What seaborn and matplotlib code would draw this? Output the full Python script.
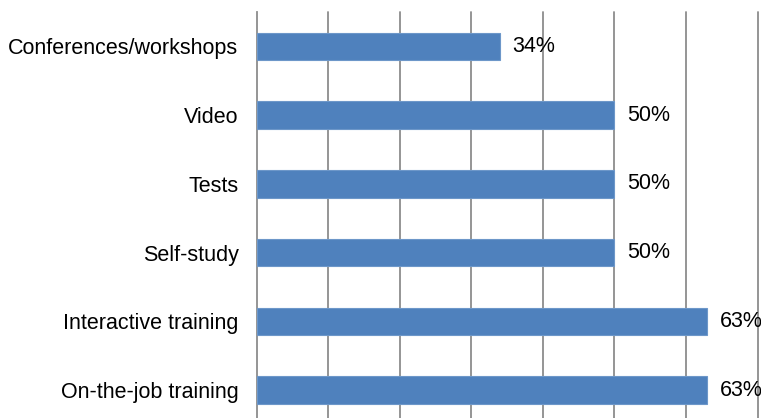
import matplotlib
matplotlib.use("Agg")
import matplotlib.pyplot as plt
import seaborn as sns
import pandas as pd
from matplotlib.ticker import FixedLocator

categories = ["Conferences/workshops", "Video", "Tests", "Self-study",
              "Interactive training", "On-the-job training"]
shares = [34, 50, 50, 50, 63, 63]
value_labels = ["34%", "50%", "50%", "50%", "63%", "63%"]

df = pd.DataFrame({"method": categories, "share": shares})

sns.set_theme(style="white")
plt.rcParams["font.family"] = ["Liberation Sans", "DejaVu Sans"]

W, H = 761, 418
fig = plt.figure(figsize=(W / 100, H / 100), dpi=100)
left, right, top, bottom = 256.5, 757.5, 12, 424.5
ax = fig.add_axes([left / W, (H - bottom) / H, (right - left) / W, (bottom - top) / H])

sns.barplot(data=df, x="share", y="method", order=categories, orient="h",
            color="#4F81BD", width=0.4, edgecolor="#6d97c9", linewidth=0.8,
            saturation=1, ax=ax, zorder=3)

ax.set_xlim(0, 70)
ax.set_ylim(len(categories) - 0.5, -0.5)
ax.set_xlabel("")
ax.set_ylabel("")

grid_col = "#8c8c8c"
ax.set_xticks(range(0, 71, 10))
ax.set_xticklabels([])
for x in range(10, 71, 10):
    ax.axvline(x, color=grid_col, lw=1.3, zorder=1, clip_on=False)

for s in ["top", "right", "bottom"]:
    ax.spines[s].set_visible(False)
ax.spines["left"].set_color(grid_col)
ax.spines["left"].set_linewidth(1.3)

ax.tick_params(axis="y", which="major", length=0, pad=13, labelsize=15.5, labelcolor="black")
ax.yaxis.set_minor_locator(FixedLocator([i - 0.5 for i in range(len(categories) + 1)]))
ax.tick_params(axis="y", which="minor", length=5, width=1.3, color=grid_col, direction="out")
ax.tick_params(axis="x", length=0)

for i, (v, lab) in enumerate(zip(shares, value_labels)):
    ax.text(v + 1.75, i, lab, va="center", ha="left", fontsize=15.5, color="black",
            zorder=4, clip_on=False)

fig.savefig("out.png", dpi=100)
